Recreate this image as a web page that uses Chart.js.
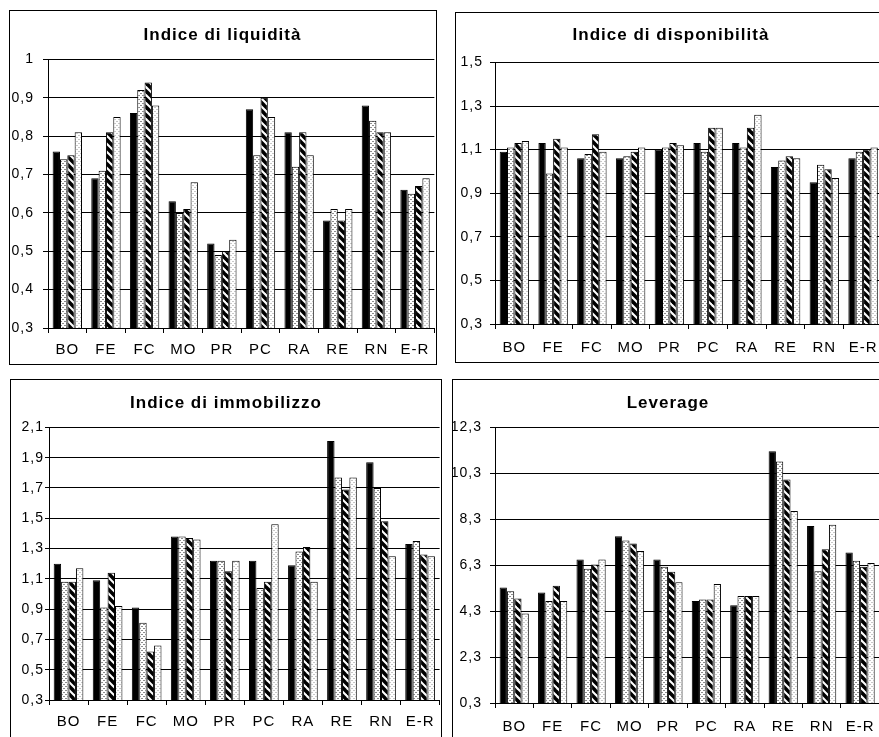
<!DOCTYPE html>
<html>
<head>
<meta charset="utf-8">
<script src="https://cdn.jsdelivr.net/npm/chart.js@4.4.1/dist/chart.umd.min.js"></script>
<style>
  html, body { margin: 0; padding: 0; background: #fff; overflow: hidden; width: 879px; height: 737px; }
  .box { position: absolute; border: 1px solid #000; box-sizing: border-box; overflow: hidden; background: #fff; }
  .box canvas { position: absolute; left: 0; top: 0; }
</style>
</head>
<body>
<div class="box" style="left:9px;top:10px;width:428px;height:355px"><canvas id="c1" width="426" height="353"></canvas></div>
<div class="box" style="left:455px;top:12px;width:432px;height:351px"><canvas id="c2" width="430" height="349"></canvas></div>
<div class="box" style="left:10px;top:379px;width:432px;height:400px"><canvas id="c3" width="430" height="357"></canvas></div>
<div class="box" style="left:452px;top:379px;width:436px;height:400px"><canvas id="c4" width="430" height="357"></canvas></div>
<script>
var categories = ['BO', 'FE', 'FC', 'MO', 'PR', 'PC', 'RA', 'RE', 'RN', 'E-R'];
var seriesNames = ['Serie 1', 'Serie 2', 'Serie 3', 'Serie 4'];

// Indice di liquidità
var liq1 = [0.76, 0.69, 0.86, 0.63, 0.52, 0.87, 0.81, 0.58, 0.88, 0.66];
var liq2 = [0.74, 0.71, 0.92, 0.60, 0.49, 0.75, 0.72, 0.61, 0.84, 0.65];
var liq3 = [0.75, 0.81, 0.94, 0.61, 0.50, 0.90, 0.81, 0.58, 0.81, 0.67];
var liq4 = [0.81, 0.85, 0.88, 0.68, 0.53, 0.85, 0.75, 0.61, 0.81, 0.69];
var liqTicks = ['0,3', '0,4', '0,5', '0,6', '0,7', '0,8', '0,9', '1'];

// Indice di disponibilità
var disp1 = [1.09, 1.13, 1.06, 1.06, 1.10, 1.13, 1.13, 1.02, 0.95, 1.06];
var disp2 = [1.11, 0.99, 1.08, 1.07, 1.11, 1.09, 1.11, 1.05, 1.03, 1.09];
var disp3 = [1.13, 1.15, 1.17, 1.09, 1.13, 1.20, 1.20, 1.07, 1.01, 1.10];
var disp4 = [1.14, 1.11, 1.09, 1.11, 1.12, 1.20, 1.26, 1.06, 0.97, 1.11];
var dispTicks = ['0,3', '0,5', '0,7', '0,9', '1,1', '1,3', '1,5'];

// Indice di immobilizzo
var imm1 = [1.20, 1.09, 0.91, 1.38, 1.22, 1.22, 1.19, 2.01, 1.87, 1.33];
var imm2 = [1.08, 0.91, 0.81, 1.38, 1.22, 1.04, 1.28, 1.77, 1.70, 1.35];
var imm3 = [1.08, 1.14, 0.62, 1.37, 1.15, 1.08, 1.31, 1.69, 1.48, 1.26];
var imm4 = [1.17, 0.92, 0.66, 1.36, 1.22, 1.46, 1.08, 1.77, 1.25, 1.25];
var immTicks = ['0,3', '0,5', '0,7', '0,9', '1,1', '1,3', '1,5', '1,7', '1,9', '2,1'];

// Leverage
var lev1 = [5.33, 5.11, 6.55, 7.56, 6.55, 4.74, 4.56, 11.26, 8.01, 6.85];
var lev2 = [5.17, 4.74, 6.14, 7.38, 6.23, 4.81, 4.96, 10.81, 6.04, 6.49];
var lev3 = [4.85, 5.40, 6.33, 7.24, 6.01, 4.81, 4.96, 10.03, 6.99, 6.23];
var lev4 = [4.20, 4.74, 6.55, 6.92, 5.56, 5.48, 4.96, 8.66, 8.06, 6.40];
var levTicks = ['0,3', '2,3', '4,3', '6,3', '8,3', '10,3', '12,3'];

function dots(color) {
    var c = document.createElement('canvas');
    c.width = 4; c.height = 4;
    var g = c.getContext('2d');
    g.fillStyle = '#fff';
    g.fillRect(0, 0, 4, 4);
    g.fillStyle = color;
    g.fillRect(0, 0, 2, 1);
    g.fillRect(2, 2, 2, 1);
    return g.createPattern(c, 'repeat');
}

function stripes() {
    var c = document.createElement('canvas');
    c.width = 8; c.height = 8;
    var g = c.getContext('2d');
    g.fillStyle = '#fff';
    g.fillRect(0, 0, 8, 8);
    g.strokeStyle = '#000';
    g.lineWidth = 3.6;
    for (var k = -1; k <= 1; k++) {
        g.beginPath();
        g.moveTo(-1, 8 * k - 1);
        g.lineTo(9, 8 * k + 9);
        g.stroke();
    }
    return g.createPattern(c, 'repeat');
}

var fills = ['#000', dots('#8c8c8c'), stripes(), dots('#c8c8c8')];

var spacing = {
    id: 'spacing',
    beforeDraw: function (chart) { chart.ctx.letterSpacing = '1px'; }
};

function makeChart(id, title, series, ticks, opt) {
    var tickValues = ticks.map(function (t) { return parseFloat(t.replace(',', '.')); });
    new Chart(document.getElementById(id), {
        type: 'bar',
        data: {
            labels: categories,
            datasets: series.map(function (s, i) {
                return {
                    label: seriesNames[i],
                    data: s,
                    backgroundColor: fills[i],
                    borderColor: '#000',
                    borderWidth: 1,
                    borderSkipped: false,
                    categoryPercentage: 0.76,
                    barPercentage: 1.0
                };
            })
        },
        plugins: [spacing],
        options: {
            responsive: false,
            animation: false,
            layout: { padding: { left: 0, right: opt.right, top: 0, bottom: 0 } },
            plugins: {
                legend: { display: false },
                tooltip: { enabled: false },
                title: {
                    display: true,
                    text: title,
                    color: '#000',
                    font: { family: 'Liberation Sans, Arial, sans-serif', size: 17, weight: 'bold' },
                    padding: { top: opt.titleTop, bottom: opt.titleBottom }
                }
            },
            scales: {
                x: {
                    grid: { display: true, drawOnChartArea: false, drawTicks: true, tickLength: 5, color: '#000', offset: true },
                    border: { color: '#000', width: 1 },
                    ticks: {
                        color: '#000',
                        padding: opt.xPad,
                        maxRotation: 0,
                        autoSkip: false,
                        font: { family: 'Liberation Sans, Arial, sans-serif', size: 15 }
                    },
                    afterFit: function (scale) { scale.height = opt.xHeight; }
                },
                y: {
                    min: tickValues[0],
                    max: tickValues[tickValues.length - 1],
                    grid: { color: '#000', lineWidth: 1, tickLength: opt.yTick },
                    border: { color: '#000', width: 1 },
                    afterBuildTicks: function (scale) {
                        scale.ticks = tickValues.map(function (v) { return { value: v }; });
                    },
                    ticks: {
                        color: '#000',
                        padding: opt.yPad,
                        font: { family: 'Liberation Sans, Arial, sans-serif', size: 14 },
                        callback: function (v, i) { return ticks[i]; }
                    },
                    afterFit: function (scale) { scale.width = opt.yWidth; }
                }
            }
        }
    });
}

makeChart('c1', 'Indice di liquidità', [liq1, liq2, liq3, liq4], liqTicks,
    { right: 1, titleTop: 14, titleBottom: 14, xPad: 8, xHeight: 36, yWidth: 38, yTick: 5, yPad: 9 });
makeChart('c2', 'Indice di disponibilità', [disp1, disp2, disp3, disp4], dispTicks,
    { right: 0, titleTop: 12, titleBottom: 17, xPad: 10, xHeight: 38, yWidth: 39, yTick: 5, yPad: 7 });
makeChart('c3', 'Indice di immobilizzo', [imm1, imm2, imm3, imm4], immTicks,
    { right: 0, titleTop: 13, titleBottom: 14, xPad: 8, xHeight: 37, yWidth: 38, yTick: 4, yPad: 1 });
makeChart('c4', 'Leverage', [lev1, lev2, lev3, lev4], levTicks,
    { right: 0, titleTop: 13, titleBottom: 14, xPad: 10, xHeight: 34, yWidth: 42, yTick: 5, yPad: 8 });
</script>
</body>
</html>
